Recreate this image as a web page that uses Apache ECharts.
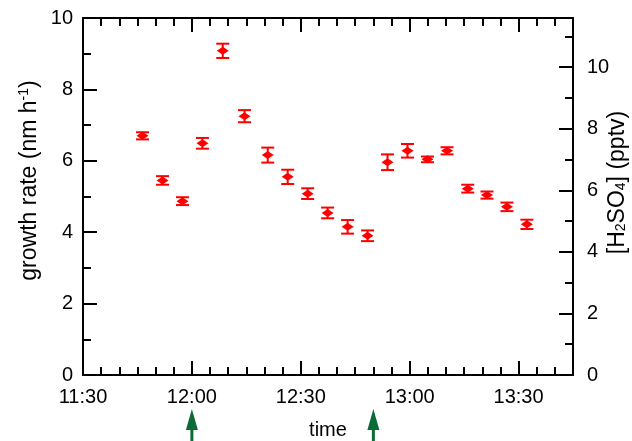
<!DOCTYPE html>
<html>
<head>
<meta charset="utf-8">
<script src="https://cdn.jsdelivr.net/npm/echarts@6/dist/echarts.min.js"></script>
<style>
html,body{margin:0;padding:0;background:#fff;}
#chart{width:632px;height:441px;}
</style>
</head>
<body>
<div id="chart"></div>
<script>
// Measurement times (clock time)
const times = ["11:46:24","11:51:54","11:57:24","12:02:54","12:08:30","12:14:30","12:20:54","12:26:24","12:31:54","12:37:24",
               "12:42:54","12:48:24","12:53:54","12:59:24","13:04:54","13:10:18","13:16:00","13:21:18","13:26:48","13:32:18"];
// Growth rate (nm h^-1)
const growthRate = [6.70,5.45,4.87,6.49,9.08,7.25,6.16,5.55,5.08,4.54,4.15,3.90,5.96,6.28,6.04,6.28,5.22,5.04,4.71,4.22];
// Error (half-width)
const growthErr = [0.10,0.12,0.11,0.15,0.20,0.17,0.21,0.20,0.15,0.15,0.19,0.15,0.22,0.19,0.08,0.10,0.11,0.10,0.12,0.13];
// Arrow marker times
const arrowTimes = ["12:00","12:50"];
// Axis ticks
const xTickStart = "11:30", xTickEnd = "13:45";
const leftTicks = [0,2,4,6,8,10];
const rightTicks = [0,2,4,6,8,10];

function toMin(s){const p=s.split(':').map(Number);return p[0]*60+p[1]+(p[2]||0)/60;}
function fmt(v){const h=Math.floor(v/60), m=Math.round(v-h*60);return h+':'+(m<10?'0':'')+m;}

const pts = times.map((t,i)=>[toMin(t), growthRate[i]]);
const errData = times.map((t,i)=>[toMin(t), growthRate[i]-growthErr[i], growthRate[i]+growthErr[i]]);

const FONT = 'Liberation Sans';
const BLACK = '#000';
const axisLine = {show:true, onZero:false, lineStyle:{color:BLACK, width:2}};
const tickMaj = {show:true, inside:true, length:14, lineStyle:{color:BLACK, width:2}};
const tickMin = (n)=>({show:true, splitNumber:n, length:8, lineStyle:{color:BLACK, width:2}});

const chart = echarts.init(document.getElementById('chart'), null, {renderer:'canvas'});
const option = {
  animation:false,
  backgroundColor:'#fff',
  textStyle:{fontFamily:FONT},
  grid:{left:83, right:59, top:18, bottom:66, containLabel:false, outerBoundsMode:'none'},
  xAxis:[{
    type:'value', min:toMin(xTickStart), max:toMin(xTickEnd), interval:30,
    axisLine, axisTick:tickMaj, minorTick:tickMin(6), splitLine:{show:false},
    axisLabel:{formatter:fmt, color:BLACK, fontSize:20, margin:12, fontFamily:FONT, showMaxLabel:false},
    name:'time', nameLocation:'middle', nameGap:45, nameMoveOverlap:false,
    nameTextStyle:{color:BLACK, fontSize:20, fontFamily:FONT}
  },{
    type:'value', position:'top', min:toMin(xTickStart), max:toMin(xTickEnd), interval:30,
    axisLine, axisTick:tickMaj, minorTick:tickMin(6), splitLine:{show:false},
    axisLabel:{show:false}
  }],
  yAxis:[{
    type:'value', min:leftTicks[0], max:leftTicks[leftTicks.length-1], interval:2,
    axisLine, axisTick:tickMaj, minorTick:tickMin(2), splitLine:{show:false},
    axisLabel:{color:BLACK, fontSize:20, margin:10, fontFamily:FONT},
    name:'{a|growth rate (nm h}{s|-1}{a|)}', nameLocation:'middle', nameGap:41, nameRotate:90, nameMoveOverlap:false,
    nameTextStyle:{padding:[0,0,0,32], rich:{a:{fontSize:23, color:BLACK, fontFamily:FONT}, s:{fontSize:14, color:BLACK, fontFamily:FONT, padding:[0,0,11,0]}}}
  },{
    type:'value', position:'right', min:rightTicks[0], max:11.6, interval:2,
    axisLine, axisTick:tickMaj, minorTick:tickMin(2), splitLine:{show:false},
    axisLabel:{color:BLACK, fontSize:20, margin:14, fontFamily:FONT, showMaxLabel:false,
      formatter:(v)=>rightTicks.includes(v)?String(v):''},
    name:'{a|[H}{b|2}{a|SO}{b|4}{a|] (pptv)}', nameLocation:'middle', nameGap:33, nameRotate:90, nameMoveOverlap:false,
    nameTextStyle:{padding:[0,0,0,28], rich:{a:{fontSize:23, color:BLACK, fontFamily:FONT}, b:{fontSize:14, color:BLACK, fontFamily:FONT, padding:[8,0,0,0]}}}
  }],
  series:[{
    type:'custom', xAxisIndex:0, yAxisIndex:0, data:errData, z:2,
    renderItem:function(params, api){
      const x = api.value(0);
      const lo = api.coord([x, api.value(1)]);
      const hi = api.coord([x, api.value(2)]);
      const w = 6.5;
      const st = {stroke:'#ff0000', lineWidth:2};
      return {type:'group', children:[
        {type:'line', shape:{x1:lo[0],y1:lo[1],x2:hi[0],y2:hi[1]}, style:st},
        {type:'line', shape:{x1:lo[0]-w,y1:lo[1],x2:lo[0]+w,y2:lo[1]}, style:st},
        {type:'line', shape:{x1:hi[0]-w,y1:hi[1],x2:hi[0]+w,y2:hi[1]}, style:st}
      ]};
    }
  },{
    type:'scatter', xAxisIndex:0, yAxisIndex:0, data:pts, z:3,
    symbol:'diamond', symbolSize:[12,8], itemStyle:{color:'#ff0000', opacity:1}
  }]
};
chart.setOption(option);

// Arrows below the time axis, placed via the x scale
const graphics = arrowTimes.map(t=>{
  const p = chart.convertToPixel({xAxisIndex:0, yAxisIndex:0}, [toMin(t), 0]);
  const x = p[0], y0 = p[1];
  const tip = y0+34, base = y0+55, bottom = 441;
  return {type:'group', children:[
    {type:'polygon', shape:{points:[[x,tip],[x-6,base],[x+6,base]]}, style:{fill:'#0b6b35'}},
    {type:'rect', shape:{x:x-1.5, y:base-1, width:3, height:bottom-base+1}, style:{fill:'#0b6b35'}}
  ]};
});
chart.setOption({graphic:graphics});
</script>
</body>
</html>
